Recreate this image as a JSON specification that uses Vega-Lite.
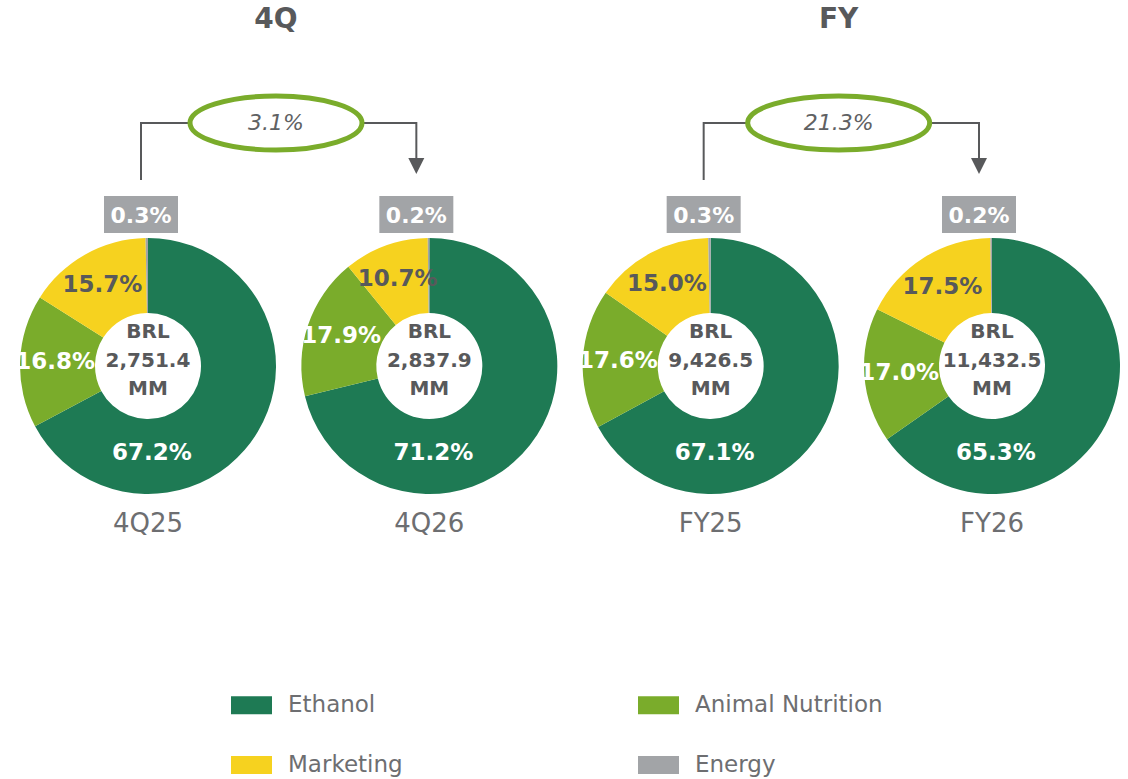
{
  "$schema": "https://vega.github.io/schema/vega-lite/v6.json",
  "width": 1128,
  "height": 779,
  "autosize": {"type": "fit", "contains": "padding"},
  "padding": 0,
  "background": "white",
  "config": {"view": {"stroke": null}, "font": "DejaVu Sans"},
  "datasets": {
    "shares": [
      {"period": "4Q25", "segment": "Ethanol", "value": 0.672, "order": 1},
      {"period": "4Q25", "segment": "Animal Nutrition", "value": 0.168, "order": 2},
      {"period": "4Q25", "segment": "Marketing", "value": 0.157, "order": 3},
      {"period": "4Q25", "segment": "Energy", "value": 0.003, "order": 4},
      {"period": "4Q26", "segment": "Ethanol", "value": 0.712, "order": 1},
      {"period": "4Q26", "segment": "Animal Nutrition", "value": 0.179, "order": 2},
      {"period": "4Q26", "segment": "Marketing", "value": 0.107, "order": 3},
      {"period": "4Q26", "segment": "Energy", "value": 0.002, "order": 4},
      {"period": "FY25", "segment": "Ethanol", "value": 0.671, "order": 1},
      {"period": "FY25", "segment": "Animal Nutrition", "value": 0.176, "order": 2},
      {"period": "FY25", "segment": "Marketing", "value": 0.150, "order": 3},
      {"period": "FY25", "segment": "Energy", "value": 0.003, "order": 4},
      {"period": "FY26", "segment": "Ethanol", "value": 0.653, "order": 1},
      {"period": "FY26", "segment": "Animal Nutrition", "value": 0.170, "order": 2},
      {"period": "FY26", "segment": "Marketing", "value": 0.175, "order": 3},
      {"period": "FY26", "segment": "Energy", "value": 0.002, "order": 4}
    ],
    "periods": [
      {"period": "4Q25", "total": 2751.4},
      {"period": "4Q26", "total": 2837.9},
      {"period": "FY25", "total": 9426.5},
      {"period": "FY26", "total": 11432.5}
    ],
    "groups": [
      {"group": "4Q", "from": "4Q25", "to": "4Q26", "growth": 0.031},
      {"group": "FY", "from": "FY25", "to": "FY26", "growth": 0.213}
    ]
  },
  "layer": [
    {
      "data": {"name": "shares"},
      "transform": [{"filter": "datum.period === '4Q25'"}],
      "encoding": {
        "x": {"field": "period", "type": "nominal", "scale": {"type": "point", "domain": ["4Q25", "4Q26", "FY25", "FY26"], "range": [148, 992], "padding": 0}, "axis": null},
        "y": {"value": 366},
        "theta": {"field": "value", "type": "quantitative", "stack": true, "scale": {"domain": [0, 1]}},
        "order": {"field": "order", "type": "quantitative"}
      },
      "layer": [
        {"mark": {"type": "arc", "outerRadius": 128, "innerRadius": 53},
         "encoding": {"color": {"field": "segment", "type": "nominal",
           "scale": {"domain": ["Ethanol", "Animal Nutrition", "Marketing", "Energy"], "range": ["#1E7A54", "#7AAC2B", "#F6D21F", "#A2A4A7"]},
           "legend": {"title": null, "orient": "none", "direction": "horizontal", "legendX": 231, "legendY": 684.5, "columns": 2, "symbolType": "M-1,-0.44H1V0.44H-1Z", "symbolSize": 1681, "symbolStrokeWidth": 0, "symbolOpacity": 1, "labelFont": "DejaVu Sans", "labelFontSize": 23, "labelColor": "#6D6E71", "labelOffset": 16, "columnPadding": 235, "rowPadding": 27, "padding": 0, "labelLimit": 400}}}},
        {"mark": {"type": "text", "radius": 93, "fontSize": 23, "fontWeight": "bold", "font": "DejaVu Sans"},
         "encoding": {"detail": {"field": "segment"}, "text": {"field": "value", "type": "quantitative", "format": ".1%"},
           "color": {"condition": {"test": "datum.segment === 'Marketing'", "value": "#58595B"}, "value": "#FFFFFF"},
           "opacity": {"condition": {"test": "datum.segment === 'Animal Nutrition' || datum.segment === 'Marketing'", "value": 1}, "value": 0}}}
      ]
    },
    {
      "data": {"name": "shares"},
      "transform": [{"filter": "datum.period === '4Q26'"}],
      "encoding": {
        "x": {"field": "period", "type": "nominal", "scale": {"type": "point", "domain": ["4Q25", "4Q26", "FY25", "FY26"], "range": [148, 992], "padding": 0}, "axis": null},
        "y": {"value": 366},
        "theta": {"field": "value", "type": "quantitative", "stack": true, "scale": {"domain": [0, 1]}},
        "order": {"field": "order", "type": "quantitative"}
      },
      "layer": [
        {"mark": {"type": "arc", "outerRadius": 128, "innerRadius": 53},
         "encoding": {"color": {"field": "segment", "type": "nominal",
           "scale": {"domain": ["Ethanol", "Animal Nutrition", "Marketing", "Energy"], "range": ["#1E7A54", "#7AAC2B", "#F6D21F", "#A2A4A7"]}}}},
        {"mark": {"type": "text", "radius": 93, "fontSize": 23, "fontWeight": "bold", "font": "DejaVu Sans"},
         "encoding": {"detail": {"field": "segment"}, "text": {"field": "value", "type": "quantitative", "format": ".1%"},
           "color": {"condition": {"test": "datum.segment === 'Marketing'", "value": "#58595B"}, "value": "#FFFFFF"},
           "opacity": {"condition": {"test": "datum.segment === 'Animal Nutrition' || datum.segment === 'Marketing'", "value": 1}, "value": 0}}}
      ]
    },
    {
      "data": {"name": "shares"},
      "transform": [{"filter": "datum.period === 'FY25'"}],
      "encoding": {
        "x": {"field": "period", "type": "nominal", "scale": {"type": "point", "domain": ["4Q25", "4Q26", "FY25", "FY26"], "range": [148, 992], "padding": 0}, "axis": null},
        "y": {"value": 366},
        "theta": {"field": "value", "type": "quantitative", "stack": true, "scale": {"domain": [0, 1]}},
        "order": {"field": "order", "type": "quantitative"}
      },
      "layer": [
        {"mark": {"type": "arc", "outerRadius": 128, "innerRadius": 53},
         "encoding": {"color": {"field": "segment", "type": "nominal",
           "scale": {"domain": ["Ethanol", "Animal Nutrition", "Marketing", "Energy"], "range": ["#1E7A54", "#7AAC2B", "#F6D21F", "#A2A4A7"]}}}},
        {"mark": {"type": "text", "radius": 93, "fontSize": 23, "fontWeight": "bold", "font": "DejaVu Sans"},
         "encoding": {"detail": {"field": "segment"}, "text": {"field": "value", "type": "quantitative", "format": ".1%"},
           "color": {"condition": {"test": "datum.segment === 'Marketing'", "value": "#58595B"}, "value": "#FFFFFF"},
           "opacity": {"condition": {"test": "datum.segment === 'Animal Nutrition' || datum.segment === 'Marketing'", "value": 1}, "value": 0}}}
      ]
    },
    {
      "data": {"name": "shares"},
      "transform": [{"filter": "datum.period === 'FY26'"}],
      "encoding": {
        "x": {"field": "period", "type": "nominal", "scale": {"type": "point", "domain": ["4Q25", "4Q26", "FY25", "FY26"], "range": [148, 992], "padding": 0}, "axis": null},
        "y": {"value": 366},
        "theta": {"field": "value", "type": "quantitative", "stack": true, "scale": {"domain": [0, 1]}},
        "order": {"field": "order", "type": "quantitative"}
      },
      "layer": [
        {"mark": {"type": "arc", "outerRadius": 128, "innerRadius": 53},
         "encoding": {"color": {"field": "segment", "type": "nominal",
           "scale": {"domain": ["Ethanol", "Animal Nutrition", "Marketing", "Energy"], "range": ["#1E7A54", "#7AAC2B", "#F6D21F", "#A2A4A7"]}}}},
        {"mark": {"type": "text", "radius": 93, "fontSize": 23, "fontWeight": "bold", "font": "DejaVu Sans"},
         "encoding": {"detail": {"field": "segment"}, "text": {"field": "value", "type": "quantitative", "format": ".1%"},
           "color": {"condition": {"test": "datum.segment === 'Marketing'", "value": "#58595B"}, "value": "#FFFFFF"},
           "opacity": {"condition": {"test": "datum.segment === 'Animal Nutrition' || datum.segment === 'Marketing'", "value": 1}, "value": 0}}}
      ]
    },
    {
      "data": {"name": "shares"},
      "transform": [{"filter": "datum.segment === 'Ethanol'"}],
      "mark": {"type": "text", "fontSize": 23, "fontWeight": "bold", "font": "DejaVu Sans", "color": "#FFFFFF", "dx": 4},
      "encoding": {
        "x": {"field": "period", "type": "nominal", "scale": {"type": "point", "domain": ["4Q25", "4Q26", "FY25", "FY26"], "range": [148, 992], "padding": 0}, "axis": null},
        "y": {"value": 453},
        "text": {"field": "value", "type": "quantitative", "format": ".1%"}
      }
    },
    {
      "data": {"name": "shares"},
      "transform": [{"filter": "datum.segment === 'Energy' && (datum.period === '4Q25' || datum.period === 'FY25')"}],
      "encoding": {
        "x": {"field": "period", "type": "nominal", "scale": {"type": "point", "domain": ["4Q25", "4Q26", "FY25", "FY26"], "range": [148, 992], "padding": 0}, "axis": null}
      },
      "layer": [
        {"mark": {"type": "point", "shape": "M-37,-18.5H37V18.5H-37Z", "size": 4, "filled": true, "color": "#A2A4A7", "opacity": 1, "strokeWidth": 0, "xOffset": -7},
         "encoding": {"y": {"value": 214.5}}},
        {"mark": {"type": "text", "fontSize": 22, "fontWeight": "bold", "font": "DejaVu Sans", "color": "#FFFFFF", "xOffset": -7},
         "encoding": {"y": {"value": 216}, "text": {"field": "value", "type": "quantitative", "format": ".1%"}}}
      ]
    },
    {
      "data": {"name": "shares"},
      "transform": [{"filter": "datum.segment === 'Energy' && (datum.period === '4Q26' || datum.period === 'FY26')"}],
      "encoding": {
        "x": {"field": "period", "type": "nominal", "scale": {"type": "point", "domain": ["4Q25", "4Q26", "FY25", "FY26"], "range": [148, 992], "padding": 0}, "axis": null}
      },
      "layer": [
        {"mark": {"type": "point", "shape": "M-37,-18.5H37V18.5H-37Z", "size": 4, "filled": true, "color": "#A2A4A7", "opacity": 1, "strokeWidth": 0, "xOffset": -13},
         "encoding": {"y": {"value": 214.5}}},
        {"mark": {"type": "text", "fontSize": 22, "fontWeight": "bold", "font": "DejaVu Sans", "color": "#FFFFFF", "xOffset": -13},
         "encoding": {"y": {"value": 216}, "text": {"field": "value", "type": "quantitative", "format": ".1%"}}}
      ]
    },
    {
      "data": {"name": "periods"},
      "encoding": {
        "x": {"field": "period", "type": "nominal", "scale": {"type": "point", "domain": ["4Q25", "4Q26", "FY25", "FY26"], "range": [148, 992], "padding": 0}, "axis": null}
      },
      "layer": [
        {"mark": {"type": "text", "fontSize": 20, "fontWeight": "bold", "font": "DejaVu Sans", "color": "#58595B"},
         "encoding": {"y": {"value": 332}, "text": {"value": "BRL"}}},
        {"mark": {"type": "text", "fontSize": 20, "fontWeight": "bold", "font": "DejaVu Sans", "color": "#58595B"},
         "encoding": {"y": {"value": 361}, "text": {"field": "total", "type": "quantitative", "format": ",.1f"}}},
        {"mark": {"type": "text", "fontSize": 20, "fontWeight": "bold", "font": "DejaVu Sans", "color": "#58595B"},
         "encoding": {"y": {"value": 389}, "text": {"value": "MM"}}},
        {"mark": {"type": "text", "fontSize": 26, "font": "DejaVu Sans", "color": "#6D6E71"},
         "encoding": {"y": {"value": 524}, "text": {"field": "period", "type": "nominal"}}}
      ]
    },
    {
      "data": {"name": "groups"},
      "layer": [
        {"mark": {"type": "rule", "color": "#58595B", "strokeWidth": 2, "xOffset": -7},
         "encoding": {
           "x": {"field": "from", "type": "nominal", "scale": {"type": "point", "domain": ["4Q25", "4Q26", "FY25", "FY26"], "range": [148, 992], "padding": 0}, "axis": null},
           "y": {"value": 122}, "y2": {"value": 180}}},
        {"mark": {"type": "rule", "color": "#58595B", "strokeWidth": 2, "xOffset": -13},
         "encoding": {
           "x": {"field": "to", "type": "nominal", "scale": {"type": "point", "domain": ["4Q25", "4Q26", "FY25", "FY26"], "range": [148, 992], "padding": 0}, "axis": null},
           "y": {"value": 122}, "y2": {"value": 162}}},
        {"mark": {"type": "rule", "color": "#58595B", "strokeWidth": 2, "xOffset": -7, "x2Offset": -13},
         "encoding": {
           "x": {"field": "from", "type": "nominal", "scale": {"type": "point", "domain": ["4Q25", "4Q26", "FY25", "FY26"], "range": [148, 992], "padding": 0}, "axis": null},
           "x2": {"field": "to"},
           "y": {"value": 123}}},
        {"mark": {"type": "point", "shape": "M-8,-8L8,-8L0,8Z", "size": 4, "filled": true, "color": "#58595B", "opacity": 1, "strokeWidth": 0, "xOffset": -13},
         "encoding": {
           "x": {"field": "to", "type": "nominal", "scale": {"type": "point", "domain": ["4Q25", "4Q26", "FY25", "FY26"], "range": [148, 992], "padding": 0}, "axis": null},
           "y": {"value": 166}}},
        {"mark": {"type": "point", "size": 4, "filled": true, "fill": "#FFFFFF", "stroke": "#7AAC2B", "strokeWidth": 5, "opacity": 1, "fillOpacity": 1, "strokeOpacity": 1, "xOffset": 128},
         "encoding": {
           "x": {"field": "from", "type": "nominal", "scale": {"type": "point", "domain": ["4Q25", "4Q26", "FY25", "FY26"], "range": [148, 992], "padding": 0}, "axis": null},
           "y": {"value": 123},
           "shape": {"field": "group", "type": "nominal", "scale": {"domain": ["4Q", "FY"], "range": ["M-86,0A86,27 0 1,0 86,0A86,27 0 1,0 -86,0Z", "M-91,0A91,27 0 1,0 91,0A91,27 0 1,0 -91,0Z"]}, "legend": null}}},
        {"mark": {"type": "text", "fontSize": 22, "fontStyle": "italic", "font": "DejaVu Sans", "color": "#606163", "xOffset": 128},
         "encoding": {
           "x": {"field": "from", "type": "nominal", "scale": {"type": "point", "domain": ["4Q25", "4Q26", "FY25", "FY26"], "range": [148, 992], "padding": 0}, "axis": null},
           "y": {"value": 123},
           "text": {"field": "growth", "type": "quantitative", "format": ".1%"}}},
        {"mark": {"type": "text", "fontSize": 28, "fontWeight": "bold", "font": "DejaVu Sans", "color": "#58595B", "xOffset": 128},
         "encoding": {
           "x": {"field": "from", "type": "nominal", "scale": {"type": "point", "domain": ["4Q25", "4Q26", "FY25", "FY26"], "range": [148, 992], "padding": 0}, "axis": null},
           "y": {"value": 20},
           "text": {"field": "group", "type": "nominal"}}}
      ]
    }
  ]
}
